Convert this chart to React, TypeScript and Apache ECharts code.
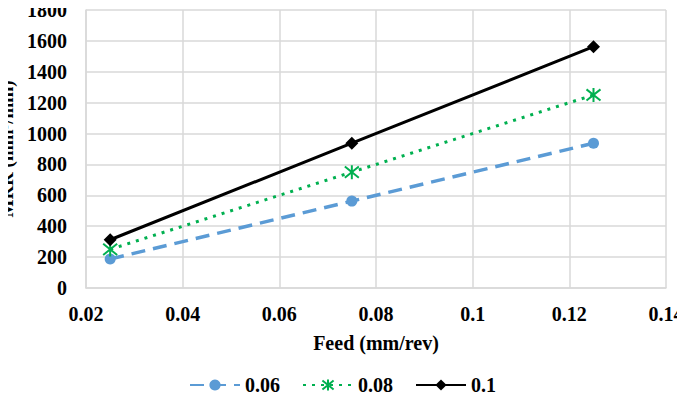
import React, { useEffect, useRef } from "react";
import * as echarts from "echarts";

const feeds = [0.025, 0.075, 0.125];
const s006 = [187.5, 562.5, 937.5];
const s008 = [250, 750, 1250];
const s010 = [312.5, 937.5, 1562.5];
const seriesNames = ["0.06", "0.08", "0.1"];

const pair = (ys: number[]) => feeds.map((x, i) => [x, ys[i]]);

const font = "Liberation Serif";

export default function App() {
  const ref = useRef<HTMLDivElement>(null);
  useEffect(() => {
    if (!ref.current) return;
    const chart = echarts.init(ref.current, undefined, { renderer: "svg" });
    chart.setOption({
      animation: false,
      backgroundColor: "#fff",
      textStyle: { fontFamily: font },
      grid: { left: 86, right: 19, top: 10, bottom: 117, containLabel: false, outerBoundsMode: "none" },
      xAxis: {
        type: "value",
        min: 0.02,
        max: 0.14,
        interval: 0.02,
        name: "Feed (mm/rev)",
        nameLocation: "middle",
        nameGap: 45,
        nameMoveOverlap: false,
        nameTextStyle: { fontFamily: font, fontWeight: "bold", fontSize: 20, color: "#000" },
        axisLine: { show: true, lineStyle: { color: "#d9d9d9", width: 1.5 } },
        axisTick: { show: false },
        splitLine: { show: true, lineStyle: { color: "#d9d9d9", width: 1.5 } },
        axisLabel: {
          fontFamily: font, fontWeight: "bold", fontSize: 20, color: "#000", margin: 16,
          formatter: (v: number) => String(Math.round(v * 100) / 100),
        },
      },
      yAxis: {
        type: "value",
        min: 0,
        max: 1800,
        interval: 200,
        name: "MRR (mm³/min)",
        nameLocation: "middle",
        nameGap: 70,
        nameMoveOverlap: false,
        nameTextStyle: { fontFamily: font, fontWeight: "bold", fontSize: 19, color: "#000" },
        axisLine: { show: true, lineStyle: { color: "#d9d9d9", width: 1.5 } },
        axisTick: { show: false },
        splitLine: { show: true, lineStyle: { color: "#d9d9d9", width: 1.5 } },
        axisLabel: {
          fontFamily: font, fontWeight: "bold", fontSize: 20, color: "#000", margin: 19,
          formatter: (v: number) => String(v),
        },
      },
      legend: {
        top: 370,
        left: 184,
        itemWidth: 50,
        itemHeight: 14,
        itemGap: 22,
        textStyle: { fontFamily: font, fontWeight: "bold", fontSize: 20, color: "#000" },
        data: seriesNames,
      },
      series: [
        {
          name: seriesNames[0],
          type: "line",
          data: pair(s006),
          symbol: "circle",
          symbolSize: 11,
          itemStyle: { color: "#5b9bd5" },
          lineStyle: { color: "#5b9bd5", width: 3.5, type: [14, 8] },
        },
        {
          name: seriesNames[1],
          type: "line",
          data: pair(s008),
          symbol: "path://M0,-10 L0,10 M-8,-8 L8,8 M-8,8 L8,-8",
          symbolSize: 14,
          itemStyle: { color: "#00b050", borderColor: "#00b050", borderWidth: 2 },
          lineStyle: { color: "#00b050", width: 3, type: [3, 6] },
        },
        {
          name: seriesNames[2],
          type: "line",
          data: pair(s010),
          symbol: "diamond",
          symbolSize: 13,
          itemStyle: { color: "#000" },
          lineStyle: { color: "#000", width: 3 },
        },
      ],
    });
    return () => chart.dispose();
  }, []);
  return <div ref={ref} style={{ width: 685, height: 405, margin: -8 }} />;
}
